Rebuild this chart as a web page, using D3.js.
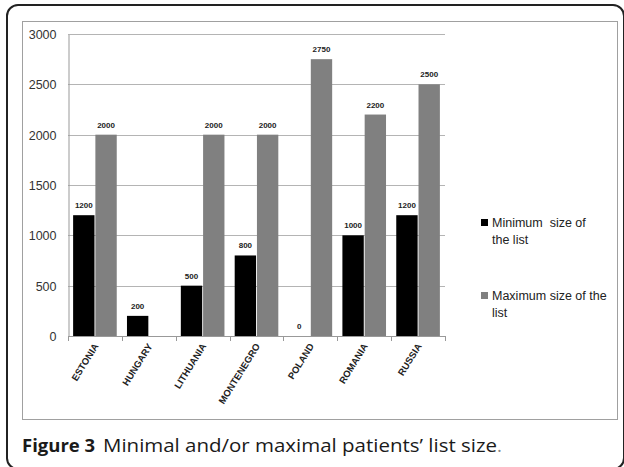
<!DOCTYPE html>
<html>
<head>
<meta charset="utf-8">
<script src="https://cdn.jsdelivr.net/npm/d3@7"></script>
<style>
  body { margin: 0; background: #fff; }
  svg { display: block; }
  .tick-y { font-family: "Liberation Sans", Arial, sans-serif; font-size: 12.5px; fill: #333; }
  .val { font-family: "Liberation Sans", Arial, sans-serif; font-size: 8px; font-weight: bold; fill: #222; }
  .cat { font-family: "Liberation Sans", Arial, sans-serif; font-size: 9.5px; font-weight: bold; fill: #222; }
  .legend { font-family: "Liberation Sans", Arial, sans-serif; font-size: 12.5px; fill: #222; }
  .caption { font-family: "Open Sans", "Noto Sans", sans-serif; font-size: 18.5px; fill: #1a1a1a; }
</style>
</head>
<body>
<script>
var countries = ["ESTONIA", "HUNGARY", "LITHUANIA", "MONTENEGRO", "POLAND", "ROMANIA", "RUSSIA"];
var minSize = [1200, 200, 500, 800, 0, 1000, 1200];
var maxSize = [2000, null, 2000, 2000, 2750, 2200, 2500];
var yTicks = [0, 500, 1000, 1500, 2000, 2500, 3000];
var seriesNames = ["Minimum  size of|the list", "Maximum size of the|list"];
var seriesColors = ["#000000", "#808080"];

var width = 624, height = 467;
var plot = { left: 68, right: 445, top: 34, bottom: 336 };

var svg = d3.select("body").append("svg")
    .attr("width", width)
    .attr("height", height);

// outer rounded box
svg.append("rect")
    .attr("x", 7).attr("y", 5)
    .attr("width", 617).attr("height", 464)
    .attr("rx", 11).attr("ry", 11)
    .style("fill", "none")
    .style("stroke", "#222")
    .style("stroke-width", 2);

// inner chart frame
svg.append("rect")
    .attr("x", 22.5).attr("y", 21.5)
    .attr("width", 595).attr("height", 398)
    .style("fill", "none")
    .style("stroke", "#a0a0a0")
    .style("stroke-width", 1);

var x0 = d3.scaleBand()
    .domain(countries)
    .range([plot.left, plot.right])
    .paddingInner(0.19)
    .paddingOuter(0.095);

var x1 = d3.scaleBand()
    .domain([0, 1])
    .range([0, x0.bandwidth()])
    .paddingInner(0.04);

var y = d3.scaleLinear()
    .domain([0, 3000])
    .range([plot.bottom, plot.top]);

// gridlines
svg.append("g").selectAll("line")
    .data(yTicks.slice(1))
    .enter().append("line")
    .attr("x1", plot.left).attr("x2", plot.right)
    .attr("y1", function (d) { return Math.round(y(d)) + 0.5; })
    .attr("y2", function (d) { return Math.round(y(d)) + 0.5; })
    .style("stroke", "#b4b4b4")
    .style("stroke-width", 1);

// y axis
var yAxis = svg.append("g")
    .attr("transform", "translate(" + (plot.left + 0.5) + ",0.5)")
    .call(d3.axisLeft(y).tickValues(yTicks).tickSize(0).tickPadding(12).tickFormat(d3.format("d")));
yAxis.select(".domain").style("stroke", "#999");
yAxis.selectAll("text").attr("class", "tick-y").attr("font-family", null).attr("font-size", null);

// x axis line and tick marks on category boundaries
svg.append("line")
    .attr("x1", plot.left).attr("x2", plot.right)
    .attr("y1", plot.bottom + 0.5).attr("y2", plot.bottom + 0.5)
    .style("stroke", "#999");
svg.append("g").selectAll("line")
    .data(d3.range(countries.length + 1))
    .enter().append("line")
    .attr("x1", function (i) { return Math.round(plot.left + i * x0.step()) + 0.5; })
    .attr("x2", function (i) { return Math.round(plot.left + i * x0.step()) + 0.5; })
    .attr("y1", plot.bottom)
    .attr("y2", plot.bottom + 5)
    .style("stroke", "#999");

// bars
var rows = countries.map(function (c, i) {
    return { country: c, values: [minSize[i], maxSize[i]] };
});

var groups = svg.append("g").selectAll("g")
    .data(rows)
    .enter().append("g")
    .attr("transform", function (d) { return "translate(" + x0(d.country) + ",0)"; });

groups.selectAll("rect")
    .data(function (d) { return d.values.map(function (v, k) { return { v: v, k: k }; }); })
    .enter().filter(function (d) { return d.v !== null && d.v > 0; })
    .append("rect")
    .attr("x", function (d) { return x1(d.k); })
    .attr("y", function (d) { return y(d.v); })
    .attr("width", x1.bandwidth())
    .attr("height", function (d) { return y(0) - y(d.v); })
    .style("fill", function (d) { return seriesColors[d.k]; });

groups.selectAll("text")
    .data(function (d) { return d.values.map(function (v, k) { return { v: v, k: k }; }); })
    .enter().filter(function (d) { return d.v !== null; })
    .append("text")
    .attr("class", "val")
    .attr("text-anchor", "middle")
    .attr("x", function (d) { return x1(d.k) + x1.bandwidth() / 2; })
    .attr("y", function (d) { return y(d.v) - 7; })
    .text(function (d) { return d.v; });

// category labels
svg.append("g").selectAll("text")
    .data(countries)
    .enter().append("text")
    .attr("class", "cat")
    .attr("text-anchor", "end")
    .attr("transform", function (d) {
        var cx = x0(d) + x0.bandwidth() / 2 + 4;
        return "translate(" + cx + "," + (plot.bottom + 10) + ") rotate(-58)";
    })
    .text(function (d) { return d; });

// legend
var legend = svg.append("g").selectAll("g")
    .data(seriesNames)
    .enter().append("g")
    .attr("transform", function (d, i) { return "translate(481," + (219 + i * 73) + ")"; });

legend.append("rect")
    .attr("width", 7).attr("height", 7)
    .style("fill", function (d, i) { return seriesColors[i]; });

legend.each(function (d) {
    var t = d3.select(this).append("text").attr("class", "legend");
    d.split("|").forEach(function (line, j) {
        t.append("tspan")
            .attr("x", 11)
            .attr("y", 8 + j * 17)
            .attr("xml:space", "preserve")
            .text(line);
    });
});

// caption
svg.append("text")
    .attr("class", "caption")
    .attr("x", 22)
    .attr("y", 452)
    .style("font-weight", "bold")
    .text("Figure 3");
svg.append("text")
    .attr("class", "caption")
    .attr("x", 103)
    .attr("y", 452)
    .attr("textLength", 394)
    .attr("lengthAdjust", "spacingAndGlyphs")
    .style("font-weight", 500)
    .text("Minimal and/or maximal patients\u2019 list size");
svg.append("text")
    .attr("class", "caption")
    .attr("x", 497)
    .attr("y", 452)
    .style("fill", "#888")
    .text(".");
</script>
</body>
</html>
